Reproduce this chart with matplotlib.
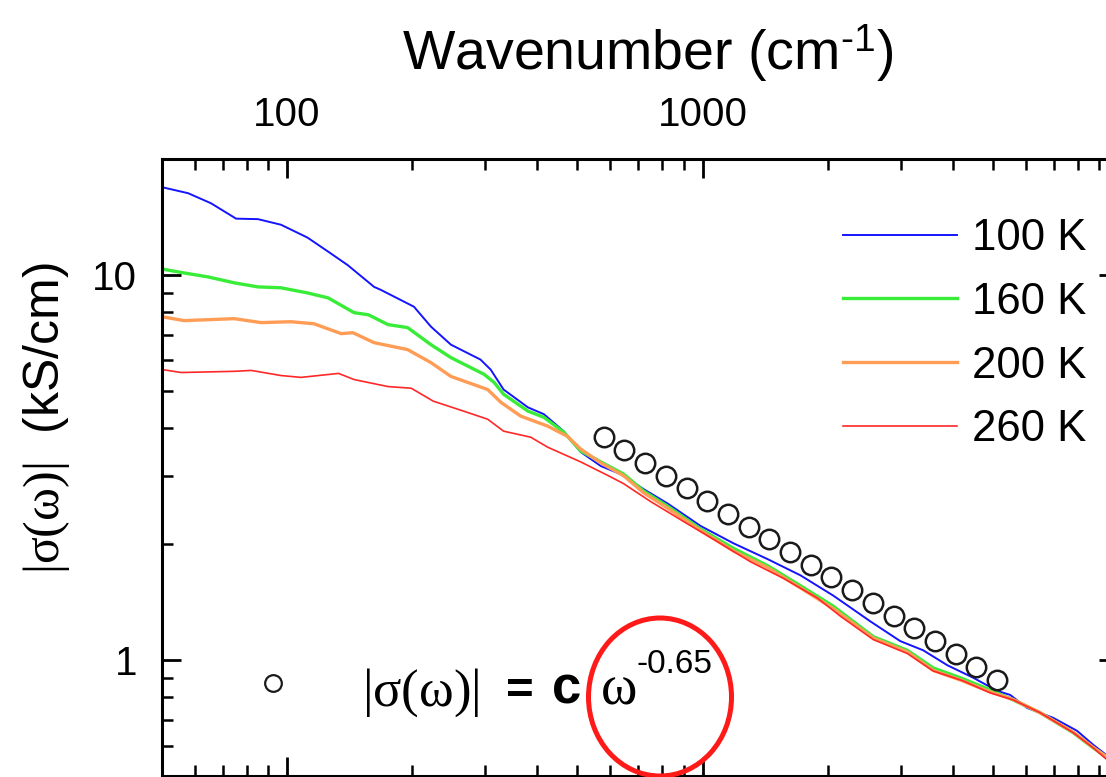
import numpy as np
import matplotlib
matplotlib.use('Agg')
import matplotlib.pyplot as plt
from matplotlib.patches import Ellipse
from matplotlib.ticker import LogLocator, NullFormatter

plt.rcParams['font.family'] = ['Liberation Sans', 'DejaVu Sans']
plt.rcParams['mathtext.fontset'] = 'custom'
plt.rcParams['mathtext.rm'] = 'Liberation Serif'
plt.rcParams['mathtext.sf'] = 'Liberation Sans'
plt.rcParams['mathtext.it'] = 'Liberation Serif:italic'
plt.rcParams['mathtext.bf'] = 'Liberation Serif:bold'

# ---------------- datos |sigma(w)| (kS/cm) vs numero de onda (cm-1) ----------------
x_100 = [50, 57.8, 65.6, 75.4, 85.1, 96.7, 112, 125.5, 140, 162, 168, 202, 222, 248, 292, 309,
         332, 380, 415, 463, 509, 569, 635, 721, 824, 989, 1187, 1432, 1720, 2064, 2268, 2535,
         2992, 3398, 3881, 4480, 5117, 5500, 6043, 6982, 7970, 8710, 9410]
y_100 = [16.9, 16.3, 15.35, 14.0, 13.96, 13.5, 12.5, 11.5, 10.6, 9.31, 9.15, 8.27, 7.34, 6.59,
         6.03, 5.68, 5.04, 4.53, 4.35, 3.93, 3.47, 3.19, 3.04, 2.78, 2.55, 2.23, 2.01, 1.83,
         1.66, 1.47, 1.37, 1.26, 1.12, 1.06, 0.97, 0.90, 0.832, 0.812, 0.751, 0.708, 0.655,
         0.603, 0.565]

x_160 = [50, 56.5, 64.6, 74.6, 85.1, 96.7, 112, 125.5, 145, 157, 175, 195, 222, 248, 298, 315,
         332, 380, 415, 463, 509, 569, 646, 721, 824, 989, 1187, 1432, 1720, 2064, 2577, 3111,
         3590, 4169, 4921, 5593, 6494, 7799, 8710, 9410]
y_160 = [10.36, 10.12, 9.88, 9.54, 9.31, 9.26, 8.98, 8.72, 7.98, 7.88, 7.43, 7.30, 6.59, 6.10,
         5.52, 5.26, 4.90, 4.43, 4.27, 3.91, 3.49, 3.27, 3.04, 2.75, 2.51, 2.19, 1.95, 1.76,
         1.56, 1.38, 1.15, 1.06, 0.954, 0.90, 0.837, 0.788, 0.730, 0.648, 0.592, 0.558]

x_200 = [50, 56.5, 74.6, 86.6, 102, 116, 135, 144, 162, 195, 222, 248, 304, 327, 365, 424, 473,
         509, 569, 646, 721, 824, 989, 1187, 1432, 1720, 2064, 2577, 3111, 3590, 4169, 4921,
         5593, 6494, 7799, 8710, 9410]
y_200 = [7.79, 7.61, 7.70, 7.52, 7.56, 7.47, 7.04, 7.08, 6.67, 6.40, 5.92, 5.45, 5.04, 4.67,
         4.30, 4.05, 3.81, 3.53, 3.25, 3.01, 2.72, 2.48, 2.17, 1.92, 1.74, 1.54, 1.36, 1.14,
         1.05, 0.94, 0.888, 0.827, 0.79, 0.73, 0.65, 0.594, 0.56]

x_260 = [50, 55.6, 74.6, 82, 96.7, 108, 133, 145, 175, 199, 225, 266, 304, 332, 386, 424, 509,
         601, 646, 750, 900, 1086, 1304, 1566, 1889, 2147, 2577, 3111, 3590, 4240, 4921, 5593,
         6494, 7799, 8710, 9410]
y_260 = [5.68, 5.58, 5.62, 5.65, 5.48, 5.42, 5.55, 5.35, 5.13, 5.08, 4.70, 4.43, 4.22, 3.93,
         3.79, 3.57, 3.27, 2.99, 2.87, 2.58, 2.29, 2.03, 1.80, 1.63, 1.45, 1.30, 1.13, 1.04,
         0.937, 0.883, 0.822, 0.788, 0.730, 0.648, 0.592, 0.551]

# circulos: ajuste |sigma| = c w^-0.65
x_fit = [578, 648, 727, 816, 915, 1026, 1151, 1291, 1448, 1624, 1822, 2043, 2292, 2570, 2883,
         3234, 3627, 4068, 4563, 5118]
y_fit = [3.79, 3.51, 3.25, 3.01, 2.79, 2.59, 2.40, 2.22, 2.06, 1.91, 1.77, 1.64, 1.52, 1.41,
         1.30, 1.21, 1.12, 1.04, 0.96, 0.89]

temperaturas = ['100 K', '160 K', '200 K', '260 K']

#------------------------------------------------------------------------------------

W, H = 1106, 777
fig = plt.figure(figsize=(W / 100, H / 100), dpi=100)
ax = fig.add_axes([162 / W, 1 - 776 / H, (1118 - 162) / W, (776 - 159) / H])

def fx(px):
    return px / W

def fy(py):
    return 1 - py / H

ax.plot(x_100, y_100, color='#1414ff', lw=1.4, label=temperaturas[0])
ax.plot(x_160, y_160, color='#38ec38', lw=2.4, label=temperaturas[1])
ax.plot(x_200, y_200, color='#ff9c55', lw=2.4, label=temperaturas[2])
ax.plot(x_260, y_260, color='#ff2828', lw=1.2, label=temperaturas[3])
ax.plot(x_fit, y_fit, 'o', mfc='none', mec='#1a1a1a', ms=14, mew=1.8)

ax.set_xscale('log')
ax.set_yscale('log')
ax.set_xlim(50, 10000)
ax.set_ylim(0.5, 20)

ax.set_xticks([100, 1000, 10000])
ax.set_xticklabels(['100', '1000', ''])
ax.set_yticks([1, 10])
ax.set_yticklabels(['1', '10'])
ax.xaxis.set_minor_locator(LogLocator(base=10, subs=np.arange(2, 10), numticks=20))
ax.yaxis.set_minor_locator(LogLocator(base=10, subs=np.arange(2, 10), numticks=20))
ax.xaxis.set_minor_formatter(NullFormatter())
ax.yaxis.set_minor_formatter(NullFormatter())

ax.tick_params(which='both', direction='in', top=True, bottom=True, left=True, right=True,
               labeltop=True, labelbottom=False, labelleft=True, labelright=False)
ax.tick_params(which='major', length=14, width=2.0, labelsize=29, pad=18)
ax.tick_params(which='minor', length=8, width=1.8)
for s in ax.spines.values():
    s.set_linewidth(2.2)

ax.xaxis.set_label_position('top')
ax.set_xlabel('Wavenumber (cm$^{\\mathsf{\u2010}\\mathsf{1}}$)', fontsize=40)
ax.xaxis.set_label_coords((648 - 162) / 956, (776 - 70) / 617)
ax.set_ylabel(r'$\mathrm{|\sigma(\omega)|}$  (kS/cm)', fontsize=36)
ax.yaxis.set_label_coords((72 - 162) / 956, (776 - 418) / 617)

ax.legend(loc='upper left', bbox_to_anchor=(fx(843), fy(218)), bbox_transform=fig.transFigure,
          frameon=False, fontsize=31.5, handlelength=2.6, handletextpad=0.35,
          labelspacing=0.52, borderpad=0, borderaxespad=0)

# ecuacion del ajuste
ax.plot([92.5], [0.872], 'o', mfc='none', mec='#1a1a1a', ms=12, mew=1.6)
fig.text(fx(362), fy(706), r'$\mathrm{|\sigma(\omega)|}$', fontsize=38, va='baseline')
fig.text(fx(506), fy(704), '=', fontsize=34, fontweight='bold', va='baseline')
fig.text(fx(552), fy(704), 'c', fontsize=38, fontweight='bold', va='baseline')
fig.text(fx(600), fy(704), r'$\mathrm{\omega}$', fontsize=40, va='baseline')
fig.text(fx(636), fy(673), '-0.65', fontsize=24, va='baseline')

fig.add_artist(Ellipse((fx(660), fy(697)), 143 / W, 158 / H, transform=fig.transFigure,
                       fill=False, ec='#ff1a1a', lw=3.6))

plt.savefig('out.png', dpi=100)
